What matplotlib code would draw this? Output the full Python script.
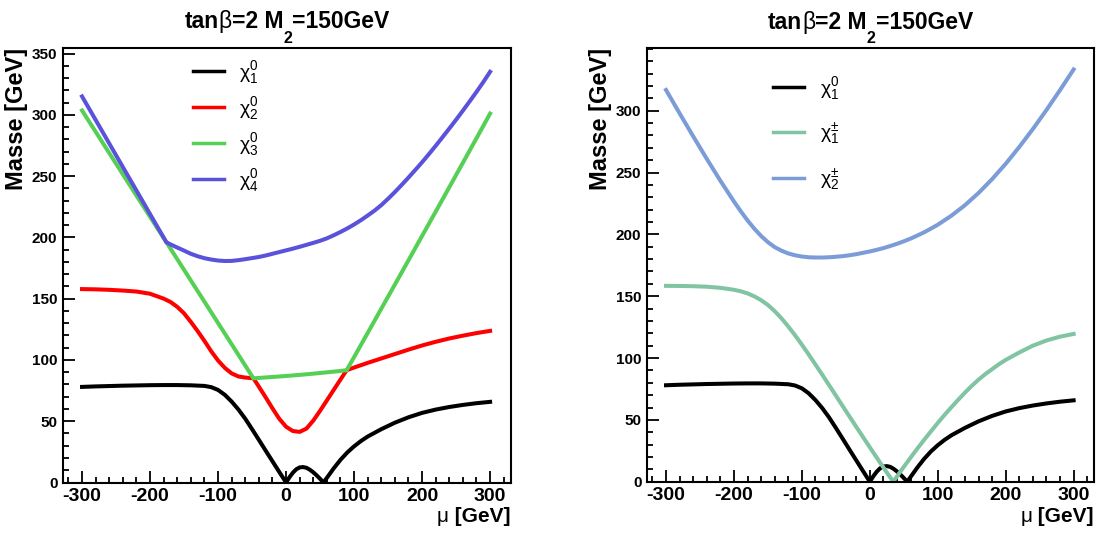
import matplotlib
matplotlib.use("Agg")
import matplotlib.pyplot as plt
from matplotlib.lines import Line2D
from matplotlib.ticker import MultipleLocator

plt.rcParams["font.family"] = ["Liberation Sans", "DejaVu Sans"]
plt.rcParams["mathtext.fontset"] = "custom"
plt.rcParams["mathtext.rm"] = "Liberation Sans"
plt.rcParams["mathtext.default"] = "regular"
plt.rcParams["axes.unicode_minus"] = False

# --- neutralino masses (left panel), mu in GeV ---
chi1_mu = [-300, -280, -260, -240, -220, -200, -180, -160, -140, -120,
           -110, -100, -90, -80, -70, -60, -50, -40, -30, -20, -10, 0,
           5, 10, 15, 20, 25, 30, 35, 40, 45, 50, 55,
           60, 70, 80, 90, 100, 110, 120,
           140, 160, 180, 200, 220, 240, 260, 280, 300]
chi1_m = [78.0, 78.4, 78.7, 79.0, 79.2, 79.4, 79.5, 79.5, 79.3, 78.8,
          77.8, 75.5, 71.5, 66.0, 59.5, 52.0, 43.5, 34.8, 26.0, 17.3, 8.6, 0.0,
          4.3, 8.0, 10.8, 12.3, 12.6, 12.0, 10.4, 8.3, 5.8, 3.0, 0.0,
          3.8, 11.5, 18.5, 24.5, 29.5, 33.8, 37.5,
          43.5, 48.8, 53.2, 56.8, 59.5, 61.6, 63.3, 64.7, 65.8]

chi2_mu = [-300, -280, -260, -240, -220, -200, -180,
           -170, -160, -150, -140, -130, -120, -110, -100, -90, -80, -70, -60,
           -48, -40, -30, -20, -10, 0, 10, 20, 30, 40, 50, 60, 70, 80,
           89, 100, 120, 140, 160, 180, 200, 220, 240, 260, 280, 300]
chi2_m = [157.8, 157.6, 157.2, 156.6, 155.8, 154.0, 150.0,
          147.3, 143.3, 138.0, 131.0, 123.5, 115.5, 107.0, 99.5, 93.5, 89.0, 86.5, 85.6,
          85.0, 78.2, 69.5, 60.5, 52.0, 45.5, 42.0, 41.3, 44.0, 50.5, 58.5, 67.0, 75.5, 84.0,
          91.6, 93.8, 97.6, 101.2, 104.8, 108.4, 111.8, 114.8, 117.5, 119.8, 121.9, 123.7]

chi3_mu = [-300, -280, -260, -240, -220, -200, -180, -160, -140, -120, -100, -80, -60,
           -48, -40, -20, 0, 20, 40, 60, 80,
           89, 100, 120, 140, 160, 180, 200, 220, 240, 260, 280, 300]
chi3_m = [303.5, 286.2, 268.8, 251.5, 234.1, 216.8, 199.5, 182.2, 164.8, 147.5, 130.1, 112.8, 95.4,
          85.0, 85.3, 86.1, 86.9, 87.8, 88.8, 89.9, 91.0,
          91.6, 102.3, 122.0, 141.8, 161.5, 181.3, 201.2, 221.0, 240.9, 260.9, 280.9, 301.0]

chi4_mu = [-300, -280, -260, -240, -220, -200, -176,
           -170, -160, -150, -140, -130, -120, -110, -100, -90, -80, -70, -60,
           -50, -40, -30, -20, -10, 0, 10, 20, 30, 40, 50, 60, 70, 80, 90,
           100, 110, 120, 130, 140, 150, 160, 170, 180, 190, 200,
           210, 220, 230, 240, 250, 260, 270, 280, 290, 300]
chi4_m = [315.0, 295.8, 276.6, 257.4, 238.2, 219.0, 196.0,
          194.3, 191.7, 189.2, 186.6, 184.6, 183.0, 181.9, 181.1, 180.7, 180.8, 181.4, 182.2,
          183.1, 184.0, 185.2, 186.6, 188.0, 189.4, 190.8, 192.3, 193.9, 195.5, 197.2, 199.2,
          201.7, 204.4, 207.3,
          210.5, 214.0, 217.8, 221.8, 226.3, 231.5, 237.0, 242.8, 248.8, 255.0, 261.3,
          267.9, 274.7, 281.7, 288.8, 296.0, 303.4, 311.0, 318.7, 326.7, 335.1]

# --- chargino masses (right panel) ---
ch1_mu = [-300, -280, -260, -240, -220, -200,
          -190, -180, -170, -160, -150, -140, -130, -120, -110, -100, -90, -80,
          -70, -60, -50, -40, -30, -20, -10, 0, 10, 20, 30, 34.5,
          40, 50, 60, 70, 80, 90, 100, 110, 120, 130, 140, 150, 160, 170, 180, 190, 200,
          220, 240, 260, 280, 300]
ch1_m = [158.4, 158.3, 158.1, 157.7, 156.8, 155.2,
         154.0, 152.3, 149.9, 146.8, 142.9, 137.9, 132.1, 125.5, 118.4, 110.8, 102.9, 94.7,
         86.5, 78.1, 69.7, 61.2, 52.8, 44.4, 36.1, 27.8, 19.6, 11.5, 3.5, 0.0,
         4.3, 12.0, 19.5, 26.8, 33.9, 40.7, 47.5, 54.0, 60.2, 66.2, 72.0, 77.5, 82.5, 87.0,
         91.0, 95.0, 98.5,
         104.5, 110.0, 114.2, 117.3, 119.5]

ch2_mu = [-300, -280, -260, -240, -220, -200,
          -190, -180, -170, -160, -150, -140, -130, -120, -110, -100, -90, -80,
          -70, -60, -50, -40, -30, -20, -10, 0, 10, 20, 30, 40, 50, 60, 70, 80, 90, 100,
          120, 140, 160, 180, 200, 220, 240, 260, 280, 300]
ch2_m = [316.8, 297.9, 279.3, 261.1, 243.4, 226.6,
         218.7, 211.3, 204.6, 198.7, 193.7, 189.7, 186.8, 184.6, 183.1, 182.1, 181.5, 181.3,
         181.3, 181.5, 181.9, 182.4, 183.1, 184.0, 185.1, 186.2, 187.5, 188.9, 190.6, 192.4,
         194.4, 196.6, 199.1, 201.7, 204.7, 207.8,
         215.1, 223.6, 233.5, 244.7, 257.1, 270.7, 285.2, 300.6, 316.7, 333.4]

left_series = [
    (chi1_mu, chi1_m, "black", r"$\chi^{0}_{1}$"),
    (chi2_mu, chi2_m, "#ff0000", r"$\chi^{0}_{2}$"),
    (chi3_mu, chi3_m, "#55d055", r"$\chi^{0}_{3}$"),
    (chi4_mu, chi4_m, "#5a52da", r"$\chi^{0}_{4}$"),
]
right_series = [
    (chi1_mu, chi1_m, "black", r"$\chi^{0}_{1}$"),
    (ch1_mu, ch1_m, "#80c4a2", r"$\chi^{\pm}_{1}$"),
    (ch2_mu, ch2_m, "#7c9cd8", r"$\chi^{\pm}_{2}$"),
]

W, H = 1101, 534
fig = plt.figure(figsize=(W / 100, H / 100), dpi=100)
ax1 = fig.add_axes([63 / W, 51.5 / H, 447.5 / W, 434.5 / H])
ax2 = fig.add_axes([647 / W, 52.3 / H, 447 / W, 433.4 / H])
renderer = fig.canvas.get_renderer()


def place_parts(ax, parts, x, y, ha="center"):
    # draw a row of text pieces (text, size, weight, dy in pt) next to each other
    widths = []
    for s, size, weight, dy in parts:
        t = fig.text(0, 0, s, fontsize=size, fontweight=weight)
        widths.append(t.get_window_extent(renderer).width)
        t.remove()
    total = sum(widths)
    off = -total / 2 if ha == "center" else -total
    for (s, size, weight, dy), w in zip(parts, widths):
        ax.annotate(s, (x, y), xycoords="axes fraction",
                    xytext=(off * 72 / 100, dy), textcoords="offset points",
                    fontsize=size, fontweight=weight, ha="left", va="baseline",
                    annotation_clip=False)
        off += w


def style(ax, ymax, yticks):
    ax.set_xlim(-328, 330)
    ax.set_ylim(0, ymax)
    ax.set_xticks(range(-300, 301, 100))
    ax.set_yticks(yticks)
    ax.xaxis.set_minor_locator(MultipleLocator(20))
    ax.yaxis.set_minor_locator(MultipleLocator(10))
    ax.tick_params(which="both", direction="in", top=False, right=False, width=1.3)
    ax.tick_params(axis="x", which="major", length=8.6, labelsize=14, pad=4)
    ax.tick_params(axis="x", which="minor", length=4.3)
    ax.tick_params(axis="y", which="major", length=8.6, labelsize=11, pad=4)
    ax.tick_params(axis="y", which="minor", length=4.3)
    for lab in ax.get_xticklabels() + ax.get_yticklabels():
        lab.set_fontweight("bold")
    for sp in ax.spines.values():
        sp.set_linewidth(1.5)
    ax.set_ylabel("Masse [GeV]", fontsize=17, fontweight="bold", loc="top")
    ax.yaxis.set_label_coords(-0.078, 1.0)
    place_parts(ax, [("tan", 16.5, "bold", 0), ("β", 16.5, "normal", 0),
                     ("=2 M", 16.5, "bold", 0), ("2", 11.5, "bold", -10.2),
                     ("=150GeV", 16.5, "bold", 0)], 0.5, 1.045)
    place_parts(ax, [("μ", 15, "normal", 0), (" [GeV]", 15, "bold", 0)],
                1.0, -0.092, ha="right")


for ax, series in ((ax1, left_series), (ax2, right_series)):
    for mu, m, c, lab in series:
        ax.plot(mu, m, color=c, lw=2.9, solid_joinstyle="round")

style(ax1, 354.5, range(0, 351, 50))
style(ax2, 350.5, range(0, 301, 50))

h1 = [Line2D([], [], color=c, lw=2.5) for _, _, c, _ in left_series]
ax1.legend(h1, [s[3] for s in left_series], loc="upper left",
           bbox_to_anchor=(0.29, 0.975), frameon=False, fontsize=14,
           handlelength=1.6, handletextpad=0.8, labelspacing=0.47,
           borderpad=0, borderaxespad=0)
h2 = [Line2D([], [], color=c, lw=2.5) for _, _, c, _ in right_series]
ax2.legend(h2, [s[3] for s in right_series], loc="upper left",
           bbox_to_anchor=(0.282, 0.939), frameon=False, fontsize=14,
           handlelength=1.6, handletextpad=0.8, labelspacing=1.0,
           borderpad=0, borderaxespad=0)

fig.savefig("out.png", dpi=100)
